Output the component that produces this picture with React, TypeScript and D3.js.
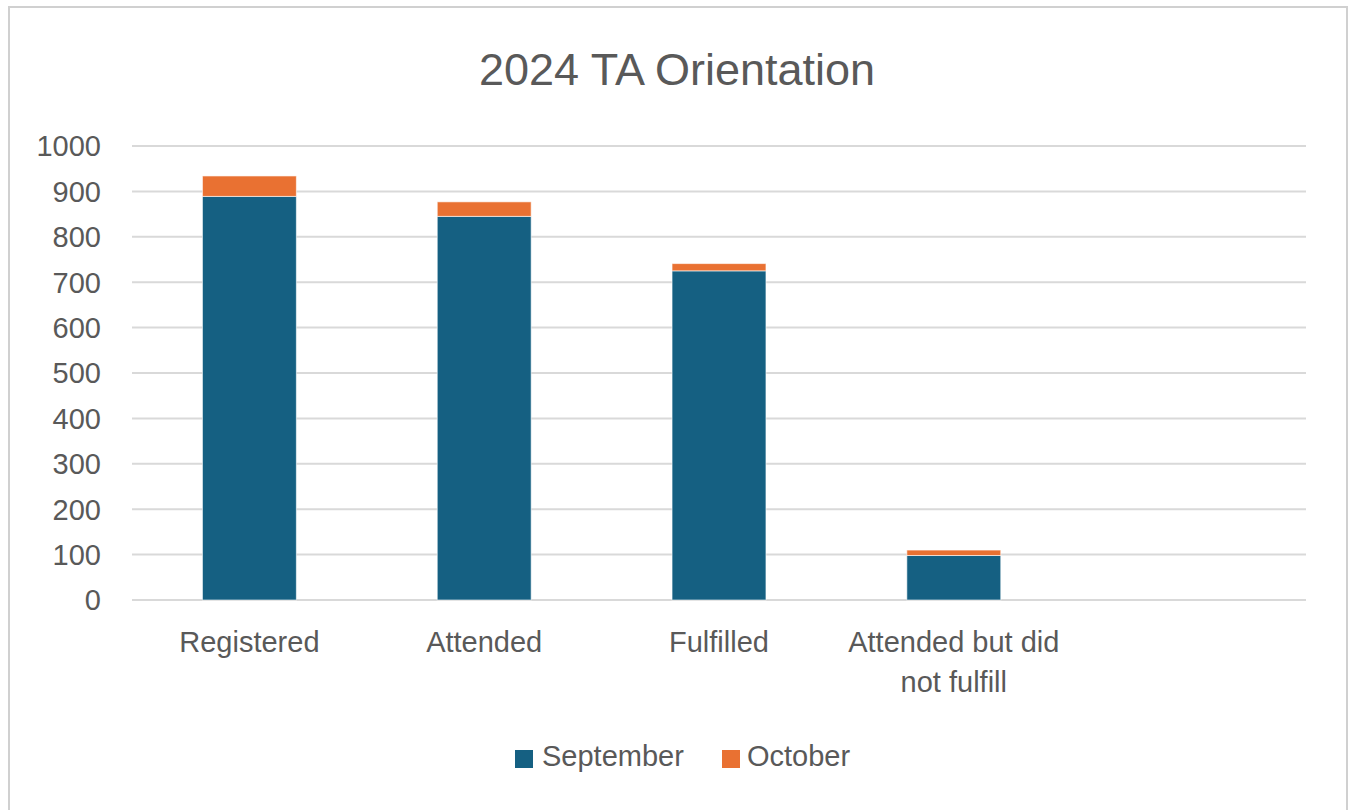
import React from "react";
import * as d3 from "d3";

const categories = ["Registered", "Attended", "Fulfilled", "Attended but did not fulfill", ""];
const categoryLines = [["Registered"], ["Attended"], ["Fulfilled"], ["Attended but did", "not fulfill"], [""]];
const september = [889, 845, 725, 98, null];
const october = [45, 32, 16, 12, null];
const yTicks = [0, 100, 200, 300, 400, 500, 600, 700, 800, 900, 1000];
const seriesNames = ["September", "October"];
const colors = ["#156082", "#E97132"];

const W = 1349;
const H = 810;
const FONT = "'Liberation Sans', Arial, sans-serif";
const TEXT = "#595959";

export default function App() {
  const x = d3.scaleBand<string>().domain(categories.map((c, i) => c || `_${i}`)).range([132, 1306]).paddingInner(0.6).paddingOuter(0.3);
  const y = d3.scaleLinear().domain([0, 1000]).range([600, 146]);
  const keys = categories.map((c, i) => c || `_${i}`);

  return (
    <svg width={W} height={H} style={{ position: "absolute", left: 0, top: 0, background: "#fff" }} fontFamily={FONT}>
      <rect x={9} y={7} width={1338} height={812} fill="#fff" stroke="#d0d0d0" strokeWidth={2} />
      <text x={677} y={85} textAnchor="middle" fontSize={45} fill={TEXT}>2024 TA Orientation</text>
      {yTicks.map((t) => (
        <g key={t}>
          <line x1={132} x2={1306} y1={y(t)} y2={y(t)} stroke="#d9d9d9" strokeWidth={2} />
          <text x={101} y={y(t)} dy="0.36em" textAnchor="end" fontSize={29} fill={TEXT}>{t}</text>
        </g>
      ))}
      {keys.map((k, i) => {
        const s = september[i];
        const o = october[i];
        if (s == null || o == null) return null;
        const bx = x(k)!;
        const bw = x.bandwidth();
        return (
          <g key={k}>
            <rect x={bx} y={y(s)} width={bw} height={y(0) - y(s)} fill={colors[0]} stroke="#ffffff" strokeOpacity={0.6} strokeWidth={1} />
            <rect x={bx} y={y(s + o)} width={bw} height={y(s) - y(s + o)} fill={colors[1]} stroke="#ffffff" strokeOpacity={0.6} strokeWidth={1} />
          </g>
        );
      })}
      {keys.map((k, i) => (
        <text key={k} x={x(k)! + x.bandwidth() / 2} y={652} textAnchor="middle" fontSize={29} fill={TEXT}>
          {categoryLines[i].map((ln, j) => (
            <tspan key={j} x={x(k)! + x.bandwidth() / 2} dy={j === 0 ? 0 : 40}>{ln}</tspan>
          ))}
        </text>
      ))}
      <g>
        <rect x={515} y={750} width={18} height={18} fill={colors[0]} />
        <text x={542} y={766} fontSize={29} fill={TEXT}>{seriesNames[0]}</text>
        <rect x={722} y={750} width={18} height={18} fill={colors[1]} />
        <text x={747} y={766} fontSize={29} fill={TEXT}>{seriesNames[1]}</text>
      </g>
    </svg>
  );
}
